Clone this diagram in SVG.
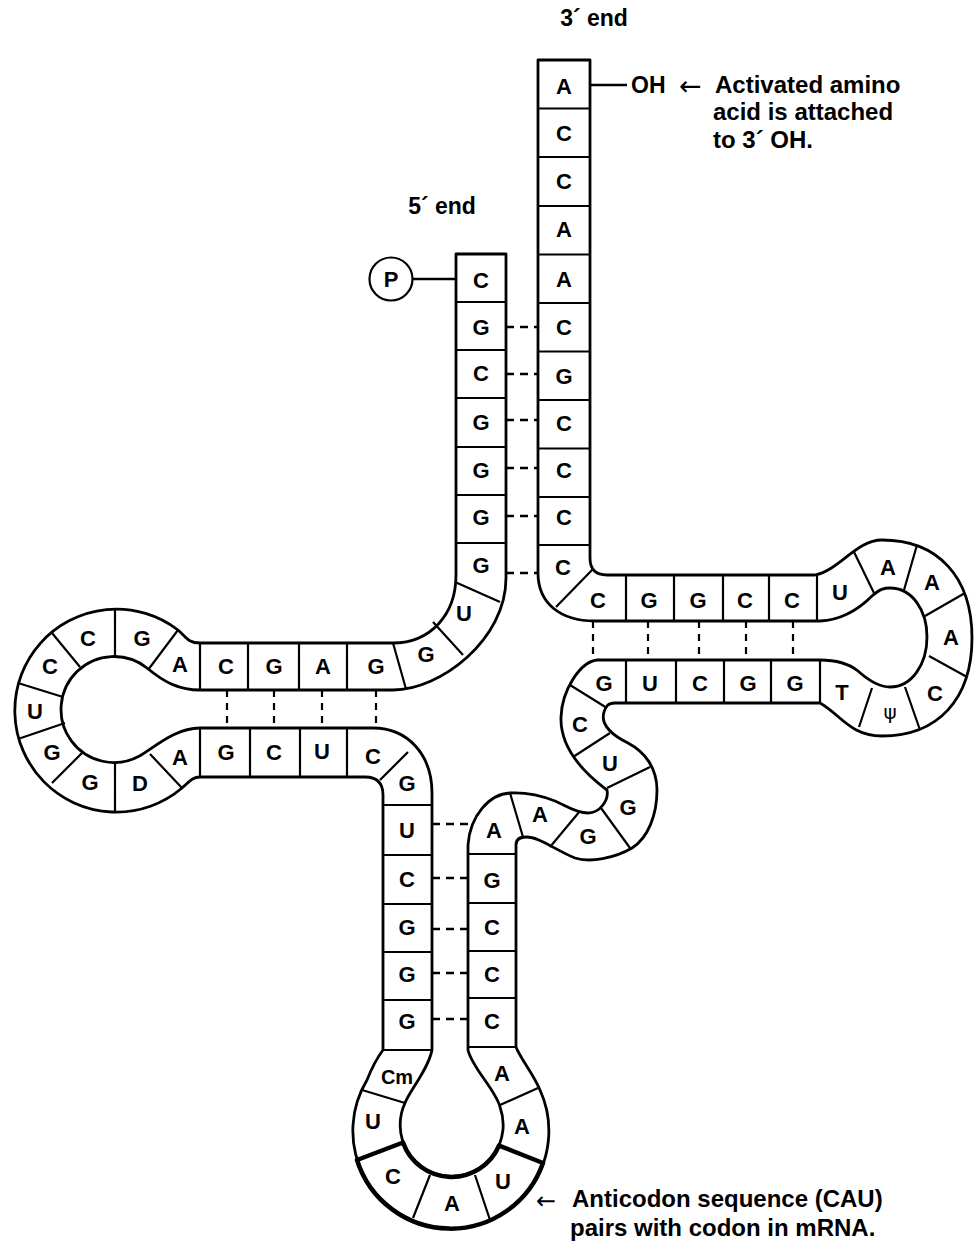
<svg xmlns="http://www.w3.org/2000/svg" width="977" height="1243" viewBox="0 0 977 1243">
<style>
.band{fill:#fff;stroke:#000;stroke-width:2.8;stroke-linejoin:round}
.div{fill:none;stroke:#000;stroke-width:2.2}
.thick{fill:none;stroke:#000;stroke-width:4.5;stroke-linecap:round}
.pair{fill:none;stroke:#000;stroke-width:2.4;stroke-dasharray:8 6}
.vpair{fill:none;stroke:#000;stroke-width:2.2;stroke-dasharray:7 6}
.link{fill:none;stroke:#000;stroke-width:2.4}
.nt{font-family:"Liberation Sans",Arial,sans-serif;font-weight:bold;font-size:22px;text-anchor:middle;fill:#000}
.psi{font-family:"DejaVu Sans",sans-serif;font-weight:normal;font-size:20px;text-anchor:middle;fill:#000}
.lbl{font-family:"Liberation Sans",Arial,sans-serif;font-weight:bold;font-size:24px;fill:#000}
.arw{font-family:"DejaVu Sans",sans-serif;font-weight:normal;fill:#000}
</style>

<g id="backbone">
<path class="band" d="M456,254 V575 C456,615 430,643 393,643 H200 C188,643 186,637 178,630 A101.5,101.5 0 1 0 182,788 C188,783 192,777 200,777 H365 Q383,777 383,795 V1050 C377,1058 371,1070 367,1080 A98,98 0 1 0 540,1090 C533,1073 520,1058 516,1047 V845 Q516,837 526,837 C540,837 555,850 575,858 C590,863 615,858 632,848 C648,838 657,815 657,790 C657,768 645,752 628,743 C612,735 600,725 604,712 C606,706 608,703 615,703 H820 C840,714 850,736 882,736 C938,736 972,699 972,638 C972,577 938,540 882,540 C856,540 840,570 815,575 H607 Q590,575 590,558 V60 H538 V573 C538,603 560,621 595,621 H820 C842,620 860,608 872,596 C880,589 884,588 890,588 C912,588 927,610 927,637 C927,664 912,687 890,687 C878,687 868,680 858,671 C848,663 836,660 820,660 H597 C580,662 562,690 561,717 C560,745 580,770 607,790 C609,800 600,813 588,813 C575,813 565,805 555,801 C545,797 530,792 510,793 C490,794 470,815 468,845 V1050 C472,1068 496,1090 500,1107 A51.5,51.5 0 1 1 405,1103 C410,1090 428,1070 432,1050 V793 C432,755 408,728 373,728 H200 C175,728 155,747 139.5,756 A53,53 0 1 1 147,668 C165,683 180,690 200,690 H393 C440,690 506,640 506,578 V254 Z"/>
</g>

<g id="acceptor-stem">
<path class="div" d="M538,108.5H590 M538,157H590 M538,206H590 M538,254.5H590 M538,303H590 M538,351.5H590 M538,400H590 M538,448.5H590 M538,497H590 M538,545H590 M593,569L556,607 M456,302H506 M456,350H506 M456,398H506 M456,447H506 M456,495H506 M456,543H506 M455,582L500,602"/>
<text class="nt" x="564" y="94">A</text>
<text class="nt" x="564" y="141">C</text>
<text class="nt" x="564" y="189">C</text>
<text class="nt" x="564" y="237">A</text>
<text class="nt" x="564" y="287">A</text>
<text class="nt" x="564" y="335">C</text>
<text class="nt" x="564" y="384">G</text>
<text class="nt" x="564" y="431">C</text>
<text class="nt" x="564" y="478">C</text>
<text class="nt" x="564" y="525">C</text>
<text class="nt" x="563" y="575">C</text>
<text class="nt" x="481" y="288">C</text>
<text class="nt" x="481" y="335">G</text>
<text class="nt" x="481" y="381">C</text>
<text class="nt" x="481" y="430">G</text>
<text class="nt" x="481" y="478">G</text>
<text class="nt" x="481" y="525">G</text>
<text class="nt" x="481" y="573">G</text>
</g>

<g id="d-arm">
<path class="div" d="M433,622L463,655 M393,643L406,689 M347,643V690 M299,643V690 M248,643V690 M200,643V690 M178,630L148,670 M115,609V657 M52,633L80,667 M18,683L63,697 M18,739L65,723 M52,783L82,753 M115,811V763 M182,788L150,754 M200,728V777 M250,728V777 M300,728V777 M347,728V777 M408,752L380,780 M383,805H432"/>
<text class="nt" x="464" y="621">U</text>
<text class="nt" x="426" y="662">G</text>
<text class="nt" x="376" y="674">G</text>
<text class="nt" x="323" y="674">A</text>
<text class="nt" x="274" y="674">G</text>
<text class="nt" x="226" y="674">C</text>
<text class="nt" x="180" y="672">A</text>
<text class="nt" x="142" y="646">G</text>
<text class="nt" x="88" y="646">C</text>
<text class="nt" x="50" y="674">C</text>
<text class="nt" x="35" y="719">U</text>
<text class="nt" x="52" y="760">G</text>
<text class="nt" x="90" y="790">G</text>
<text class="nt" x="140" y="791">D</text>
<text class="nt" x="180" y="765">A</text>
<text class="nt" x="226" y="760">G</text>
<text class="nt" x="274" y="760">C</text>
<text class="nt" x="322" y="759">U</text>
<text class="nt" x="373" y="764">C</text>
<text class="nt" x="407" y="791">G</text>
</g>

<g id="anticodon-arm">
<path class="div" d="M383,855H432 M383,904H432 M383,952H432 M383,1000H432 M383,1050H432 M468,854H516 M468,903H516 M468,951H516 M468,998H516 M468,1047H516 M362,1090L405,1103 M413,1218L430,1175 M490,1220L475,1175 M538,1088L500,1105"/>
<path class="thick" d="M357,1160L403,1142.5 M543,1163L499,1145.6 M357,1160A98,98 0 0 0 543,1163 M403,1142.5A51.5,51.5 0 0 0 499,1145.6"/>
<text class="nt" x="407" y="838">U</text>
<text class="nt" x="407" y="887">C</text>
<text class="nt" x="407" y="935">G</text>
<text class="nt" x="407" y="982">G</text>
<text class="nt" x="407" y="1029">G</text>
<text class="nt" x="494" y="838">A</text>
<text class="nt" x="492" y="888">G</text>
<text class="nt" x="492" y="935">C</text>
<text class="nt" x="492" y="982">C</text>
<text class="nt" x="492" y="1029">C</text>
<text class="nt" x="397" y="1084" style="font-size:20px">Cm</text>
<text class="nt" x="373" y="1129">U</text>
<text class="nt" x="393" y="1184">C</text>
<text class="nt" x="452" y="1211">A</text>
<text class="nt" x="503" y="1189">U</text>
<text class="nt" x="522" y="1134">A</text>
<text class="nt" x="502" y="1081">A</text>
</g>

<g id="variable-loop">
<path class="div" d="M570,685L607,708 M573,757L610,733 M607,788L650,767 M601,808L630,848 M580,811L550,847 M510,793L523,837"/>
<text class="nt" x="540" y="822">A</text>
<text class="nt" x="588" y="844">G</text>
<text class="nt" x="628" y="815">G</text>
<text class="nt" x="610" y="771">U</text>
<text class="nt" x="580" y="732">C</text>
</g>

<g id="t-arm">
<path class="div" d="M626,575V621 M674,575V621 M723,575V621 M769,575V621 M817,575V621 M626,660V703 M676,660V703 M724,660V703 M771,660V703 M820,660V703 M854,552L874,593 M917,545L904,590 M965,593L925,616 M967,677L929,656 M920,730L905,687 M859,727L872,688"/>
<text class="nt" x="598" y="608">C</text>
<text class="nt" x="649" y="608">G</text>
<text class="nt" x="698" y="608">G</text>
<text class="nt" x="745" y="608">C</text>
<text class="nt" x="792" y="608">C</text>
<text class="nt" x="604" y="691">G</text>
<text class="nt" x="650" y="691">U</text>
<text class="nt" x="700" y="691">C</text>
<text class="nt" x="748" y="691">G</text>
<text class="nt" x="795" y="691">G</text>
<text class="nt" x="842" y="700">T</text>
<text class="psi" x="890" y="719">ψ</text>
<text class="nt" x="935" y="701">C</text>
<text class="nt" x="951" y="645">A</text>
<text class="nt" x="932" y="590">A</text>
<text class="nt" x="888" y="575">A</text>
<text class="nt" x="840" y="600">U</text>
</g>

<g id="phosphate">
<circle cx="391" cy="279" r="21.5" fill="#fff" stroke="#000" stroke-width="2.2"/>
<text class="nt" x="391" y="287">P</text>
</g>

<g id="connectors">
<path class="link" d="M413,279H456 M590,85H627"/>
<path class="pair" d="M506,327H538 M506,374H538 M506,420H538 M506,468H538 M506,516H538 M506,573H538 M432,824H471 M432,878H468 M432,929H468 M432,973H468 M432,1019H468"/>
<path class="vpair" d="M227,690V728 M274,690V728 M322,690V728 M376,690V728 M593,621V660 M648,621V660 M699,621V660 M746,621V660 M793,621V660"/>
</g>

<g id="labels">
<text class="lbl" x="594" y="26" text-anchor="middle" style="font-size:23px">3´ end</text>
<text class="lbl" x="442" y="214" text-anchor="middle" style="font-size:23px">5´ end</text>
<text class="lbl" x="631" y="93" style="font-size:23px">OH</text>
<text class="arw" x="679" y="95" style="font-size:27px">←</text>
<text class="lbl" x="715" y="93">Activated amino</text>
<text class="lbl" x="713" y="120">acid is attached</text>
<text class="lbl" x="713" y="148">to 3´ OH.</text>
<text class="arw" x="536" y="1209" style="font-size:24px">←</text>
<text class="lbl" x="572" y="1207">Anticodon sequence (CAU)</text>
<text class="lbl" x="570" y="1236">pairs with codon in mRNA.</text>
</g>
</svg>
